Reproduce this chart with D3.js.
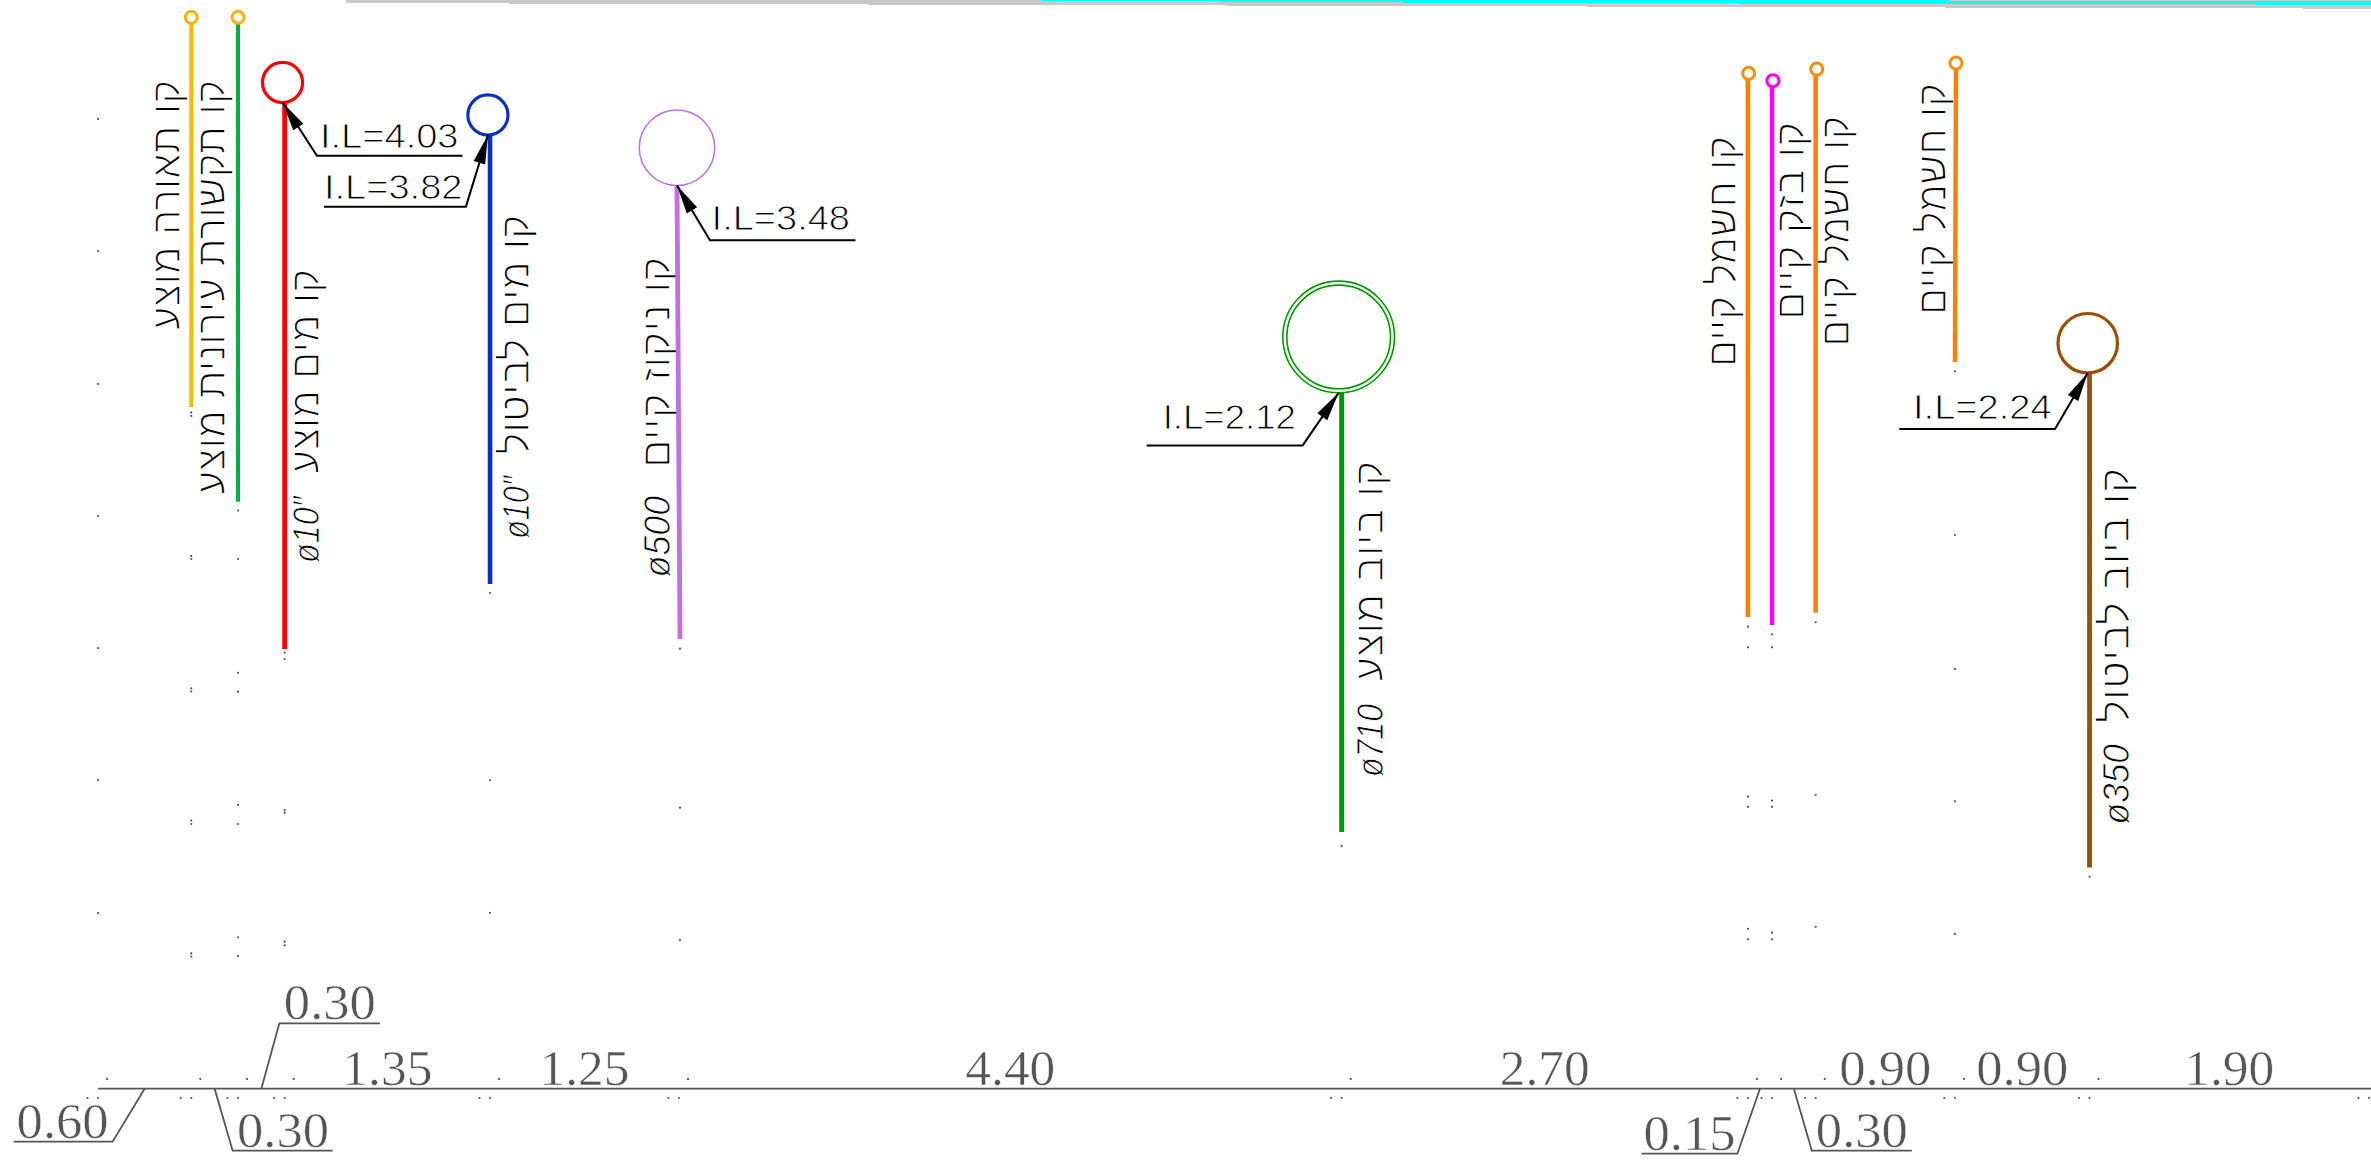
<!DOCTYPE html>
<html>
<head>
<meta charset="utf-8">
<style>
    html, body { margin: 0; padding: 0; background: #fff; }
    svg { display: block; }
</style>
</head>
<body>
<div class="section"></div>
<script src="https://cdnjs.cloudflare.com/ajax/libs/d3/7.8.5/d3.min.js"></script>
<script>
// stations along the section (m) and the dimension written over each span
const tickStations = [0, 0.618, 0.928, 1.237, 2.598, 3.85, 8.242, 10.934, 11.094, 11.383, 12.306, 13.198, 15.05]
const dimLabels = ["0.60", "0.30", "0.30", "1.35", "1.25", "4.40", "2.70", "0.15", "0.30", "0.90", "0.90", "1.90"]
const groundLevel = -2.45

// utility lines
const lineNames = ["קו תאורה מוצע", "קו תקשורת עירונית מוצע", "קו מים מוצע", "קו מים לביטול", "קו ניקוז קיים",
    "קו ביוב מוצע", "קו חשמל קיים", "קו בזק קיים", "קו חשמל קיים", "קו חשמל קיים", "קו ביוב לביטול"]
const lineDiameters = ["", "", "ø10″", "ø10″", "ø500", "ø710", "", "", "", "", "ø350"]
const lineTopStation = [0.618, 0.928, 1.237, 2.598, 3.837, 8.242, 10.934, 11.094, 11.383, 12.313, 13.198]
const lineEndStation = [0.618, 0.928, 1.237, 2.598, 3.857, 8.242, 10.934, 11.094, 11.383, 12.306, 13.198]
const lineTopLevel = [4.539, 4.539, 4.028, 3.805, 3.477, 2.119, 4.165, 4.119, 4.198, 4.237, 2.25]
const lineEndLevel = [2.021, 1.4, 0.434, 0.86, 0.499, -0.766, 0.644, 0.591, 0.672, 2.316, -1.0]

// pipe sections
const pipeStation = [0.618, 0.928, 1.223, 2.584, 3.837, 8.222, 10.939, 11.1, 11.39, 12.313, 13.186]
const pipeLevel = [4.577, 4.577, 4.149, 3.936, 3.721, 2.48, 4.209, 4.161, 4.237, 4.277, 2.439]
const pipeRadius = [0.04, 0.04, 0.133, 0.133, 0.25, 0.37, 0.04, 0.04, 0.04, 0.04, 0.197]

// invert levels, index = line
const invertLines = [2, 3, 4, 5, 10]
const invertLevels = ["4.03", "3.82", "3.48", "2.12", "2.24"]

// survey dots, one row per column
const dotStations = [0, 0.618, 0.928, 1.237, 2.598, 3.857, 8.242, 10.934, 11.094, 11.383, 12.306, 13.198]
const dotLevels = [
    [3.91, 3.044, 2.172, 1.306, 0.44, -0.425, -1.298],
    [1.985, 1.962, 1.044, 1.024, 0.175, 0.155, -0.691, -0.714, -1.563, -1.583],
    [1.342, 1.024, 0.278, 0.154, -0.589, -0.714, -1.457, -1.58],
    [0.409, 0.368, -0.622, -0.64, -1.486, -1.51],
    [0.801, -0.427, -1.296],
    [0.436, -0.607, -1.475],
    [-0.858],
    [0.58, 0.445, -0.535, -0.602, -1.401, -1.47],
    [0.53, 0.445, -0.561, -0.602, -1.427, -1.47],
    [0.609, -0.522, -1.388],
    [2.255, 1.181, 0.303, -0.565, -1.435],
    [-1.06]
]
const dotsAboveGround = -2.386
const dotsBelowGround = -2.511

// smeared strip on the top edge
const stripStations = [1.643, 15.063]
const stripLevels = [4.67, 4.633]
const cyanStations = [5.646, 9.291, 15.063, 15.063, 10.616]
const cyanLevels = [4.69, 4.67, 4.659, 4.681, 4.69]

let width = 2371, height = 1168
let x = d3.scaleLinear().domain([0, 15.05]).range([98, 2369])
let y = d3.scaleLinear().domain([4.69, -2.97]).range([0, 1168])
let rad = r => x(r) - x(0)

let svg = d3.select(".section")
    .append("svg")
    .attr("width", width)
    .attr("height", height)
    .attr("viewBox", `0 0 ${width} ${height}`)
    .style("background", "#fff")

let lineColors = ["#ffb900", "#00b140", "#ff0000", "#0a32c0", "#c070e0", "#009a00", "#ff8000", "#ff00ff", "#ff8000", "#ff8000", "#9a5000"]
let circleColors = ["#ffb000", "#ffb000", "#ff0000", "#0a32c0", "#c070e0", "#009a00", "#ff8c10", "#ff00ff", "#ff8c10", "#ff8c10", "#9a5000"]
let circleWidths = [3, 3, 3.2, 3.2, 1.5, 1.6, 3, 3, 3, 3, 3.2]
let lineWidths = [4, 4, 4.8, 4.6, 4.8, 5, 4.6, 4.4, 4.6, 4.4, 4.8]

//top strip
let area = d3.line().x(d => x(d[0])).y(d => y(d[1]))
svg.append("path")
    .attr("fill", "#c8c8c8")
    .attr("shape-rendering", "crispEdges")
    .attr("d", area([[stripStations[0], y.domain()[0]], [stripStations[1], y.domain()[0]],
        [stripStations[1], stripLevels[1]], [stripStations[0], stripLevels[0]]]) + "Z")
svg.append("path")
    .attr("fill", "#00ffff")
    .attr("shape-rendering", "crispEdges")
    .attr("d", area(cyanStations.map((s, i) => [s, cyanLevels[i]])) + "Z")

//hebrew labels, baseline dx from the line, then top and bottom of the text
let labelLayout = [
    [-11.7, 80, 330], [-12.6, 80, 494.5], [34.2, 269, 473.5], [39, 214.6, 454.5], [-7, 256.7, 468],
    [41, 461, 681.5], [-12, 136, 367], [32, 121.7, 320], [33.3, 116, 346.7], [-10, 83, 315], [39.5, 468, 723]
]
let diameterLayout = { 2: [496, 563], 3: [475.6, 538.7], 4: [495.8, 577.4], 5: [704, 777], 10: [744, 824.5] }

let labelG = svg.append("g")
lineNames.forEach((name, i) => {
    let l = labelLayout[i]
    labelG.append("text")
        .attr("transform", `translate(${x(lineTopStation[i]) + l[0]},${l[2]}) rotate(-90)`)
        .attr("font-family", "Liberation Sans")
        .attr("font-size", 42)
        .attr("fill", "#000")
        .attr("stroke", "#fff")
        .attr("stroke-width", 1.6)
        .attr("textLength", l[2] - l[1])
        .attr("lengthAdjust", "spacingAndGlyphs")
        .text(name)
    if (lineDiameters[i]) {
        let d = diameterLayout[i]
        labelG.append("text")
            .attr("transform", `translate(${x(lineTopStation[i]) + l[0]},${d[1]}) rotate(-90)`)
            .attr("font-family", "Liberation Sans")
            .attr("font-style", "italic")
            .attr("font-size", 36)
            .attr("fill", "#000")
            .attr("stroke", "#fff")
            .attr("stroke-width", 0.9)
            .attr("textLength", d[1] - d[0])
            .attr("lengthAdjust", "spacingAndGlyphs")
            .text(lineDiameters[i])
    }
})

//lines and pipe circles
svg.append("g").selectAll("line")
    .data(lineNames)
    .enter()
    .append("line")
    .attr("x1", (d, i) => x(lineTopStation[i]))
    .attr("x2", (d, i) => x(lineEndStation[i]))
    .attr("y1", (d, i) => y(lineTopLevel[i]))
    .attr("y2", (d, i) => y(lineEndLevel[i]))
    .attr("stroke", (d, i) => lineColors[i])
    .attr("stroke-width", (d, i) => lineWidths[i])

svg.append("g").selectAll("circle")
    .data(lineNames)
    .enter()
    .append("circle")
    .attr("cx", (d, i) => x(pipeStation[i]))
    .attr("cy", (d, i) => y(pipeLevel[i]))
    .attr("r", (d, i) => rad(pipeRadius[i]))
    .attr("fill", "none")
    .attr("stroke", (d, i) => circleColors[i])
    .attr("stroke-width", (d, i) => circleWidths[i])
// the 710 pipe has a wall, second ring
svg.append("circle")
    .attr("cx", x(pipeStation[5]))
    .attr("cy", y(pipeLevel[5]))
    .attr("r", rad(pipeRadius[5]) - 4)
    .attr("fill", "none")
    .attr("stroke", circleColors[5])
    .attr("stroke-width", 1.6)

//I.L leaders: elbow dx, elbow dy, end dx, label dx, baseline dy, label width
let leaderLayout = [
    [34.4, 53.2, 180, 37.4, 45.5, 138.6],
    [-22, 71.6, -164, -164, 64, 138.6],
    [33, 54.8, 178.5, 34.6, 44.2, 138.4],
    [-36, 52.6, -192, -176, 36.6, 133.3],
    [-32.7, 56, -188.4, -174.7, 46, 138.7]
]
let leaderG = svg.append("g")
invertLines.forEach((li, i) => {
    let tx = x(pipeStation[li])
    let ty = y(pipeLevel[li]) + rad(pipeRadius[li])
    let l = leaderLayout[i]
    let ex = tx + l[0], ey = ty + l[1]
    leaderG.append("path")
        .attr("fill", "none")
        .attr("stroke", "#000")
        .attr("stroke-width", 2)
        .attr("d", `M${tx},${ty} L${ex},${ey} H${tx + l[2]}`)
    // arrow head along the first leg
    let len = Math.hypot(ex - tx, ey - ty)
    let ux = (ex - tx) / len, uy = (ey - ty) / len
    let bx = tx + ux * 29, by = ty + uy * 29
    leaderG.append("path")
        .attr("fill", "#000")
        .attr("d", `M${tx},${ty} L${bx - uy * 6},${by + ux * 6} L${bx + uy * 6},${by - ux * 6} Z`)
    leaderG.append("text")
        .attr("x", tx + l[3])
        .attr("y", ty + l[4])
        .attr("font-family", "Liberation Sans")
        .attr("font-size", 35)
        .attr("fill", "#000")
        .attr("stroke", "#fff")
        .attr("stroke-width", 0.9)
        .attr("textLength", l[5])
        .attr("lengthAdjust", "spacingAndGlyphs")
        .text("I.L=" + invertLevels[i])
})

//survey dots
let dots = []
dotStations.forEach((s, i) => dotLevels[i].forEach(v => dots.push([s, v])))
tickStations.forEach(s => {
    if (s < 15) dots.push([s + 0.06, dotsAboveGround])
})
tickStations.forEach(s => {
    dots.push([s - 0.07, dotsBelowGround])
    dots.push([s, dotsBelowGround])
})
svg.append("g").selectAll("circle")
    .data(dots)
    .enter()
    .append("circle")
    .attr("cx", d => x(d[0]))
    .attr("cy", d => y(d[1]))
    .attr("r", 1.1)
    .attr("fill", "#555")

//ground line and dimensions
let groundY = y(groundLevel)
svg.append("line")
    .attr("x1", x(0))
    .attr("x2", width)
    .attr("y1", groundY)
    .attr("y2", groundY)
    .attr("stroke", "#555")
    .attr("stroke-width", 1.8)

// spans too short for text: index: elbow dx, elbow dy, end dx, label dx, baseline dy
let dimLeaders = {
    0: [-32, 53, -131, -82, 49],
    1: [18, 62, 118, 68.4, 58],
    2: [18, -65.4, 118.7, 68.5, -69.7],
    7: [-22.6, 65, -118.4, -70.4, 61.3],
    8: [18, 62, 118, 68, 58]
}
let dimG = svg.append("g")
dimLabels.forEach((label, i) => {
    let mid = (x(tickStations[i]) + x(tickStations[i + 1])) / 2
    let lead = dimLeaders[i]
    if (lead) {
        dimG.append("path")
            .attr("fill", "none")
            .attr("stroke", "#555")
            .attr("stroke-width", 1.8)
            .attr("d", `M${mid},${groundY} L${mid + lead[0]},${groundY + lead[1]} H${mid + lead[2]}`)
    }
    dimG.append("text")
        .attr("x", lead ? mid + lead[3] : mid)
        .attr("y", lead ? groundY + lead[4] : groundY - 3.7)
        .attr("text-anchor", "middle")
        .attr("font-family", "Liberation Serif")
        .attr("font-size", 50)
        .attr("fill", "#555")
        .attr("stroke", "#fff")
        .attr("stroke-width", 0.5)
        .attr("textLength", label[0] == "0" ? 92 : 90)
        .attr("lengthAdjust", "spacingAndGlyphs")
        .text(label)
})
</script>
</body>
</html>
